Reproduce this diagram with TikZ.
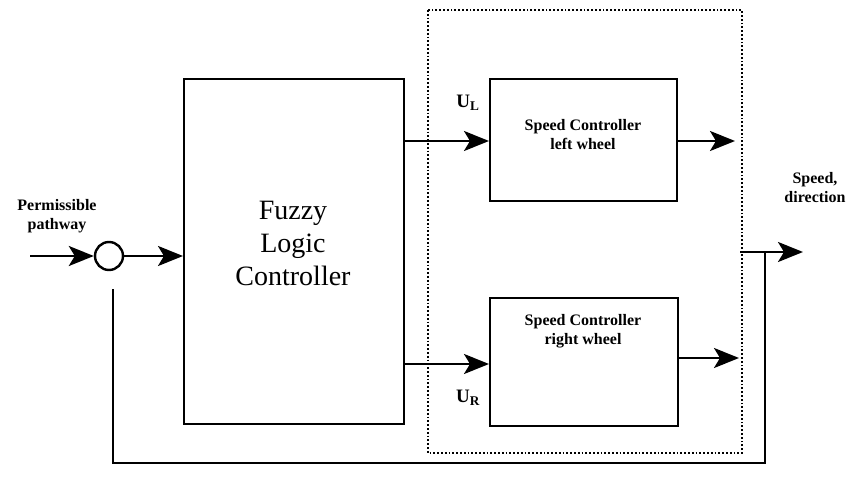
\documentclass[tikz,border=0pt]{standalone}
\usepackage{fontspec}
\setmainfont{Liberation Serif}
\usetikzlibrary{arrows.meta}
\begin{document}
\begin{tikzpicture}[x=1pt,y=-1pt,
  line width=2.6pt,
  arr/.style={-{Stealth[length=25pt,width=20pt,inset=6pt]}},
  blk/.style={draw,line width=2.4pt,inner sep=0pt},
  lbl/.style={font=\bfseries\fontsize{16}{16}\selectfont,align=center,inner sep=0pt},
]
\useasboundingbox (0,0) rectangle (848,494);
% Fuzzy logic controller
\node[blk,minimum width=220pt,minimum height=345pt,anchor=north west] (flc) at (183,78) {};
\node[font=\fontsize{28}{33}\selectfont,align=center] at (293,243) {Fuzzy\\Logic\\Controller};
% speed controllers
\node[blk,minimum width=187pt,minimum height=122pt,anchor=north west] (scl) at (489,78) {};
\node[lbl] at (583,135) {Speed Controller\\[3pt]left wheel};
\node[blk,minimum width=188pt,minimum height=128pt,anchor=north west] (scr) at (489,297) {};
\node[lbl] at (583,331) {Speed Controller\\[3pt]right wheel};
% dotted box
\draw[line width=1.8pt,dotted] (428,10) rectangle (742,453);
% summing circle
\node[draw,circle,minimum size=28pt,inner sep=0pt,line width=2.4pt] (sum) at (109,256) {};
\coordinate (in) at (30,256);
\draw[arr] (in) -- (sum.west);
\draw[arr] (sum.east) -- (flc.west |- sum);
\node[lbl] at (57,216) {Permissible\\[3pt]pathway};
% controller outputs
\coordinate (ul) at (403,141);
\coordinate (ur) at (403,364);
\draw[arr] (ul) -- (scl.west |- ul);
\draw[arr] (ur) -- (scr.west |- ur);
\node[font=\bfseries\fontsize{19}{19}\selectfont] at (468,103) {U\textsubscript{L}};
\node[font=\bfseries\fontsize{19}{19}\selectfont] at (468,398) {U\textsubscript{R}};
% outputs of speed controllers
\coordinate (ol) at (735,141);
\coordinate (or) at (739,358);
\draw[arr] (scl.east |- ol) -- (ol);
\draw[arr] (scr.east |- or) -- (or);
% system output
\coordinate (so) at (740,252);
\coordinate (st) at (803,252);
\draw[arr] (so) -- (st);
\node[lbl] at (815,188) {Speed,\\[3pt]direction};
% feedback
\coordinate (fb1) at (765,252);
\coordinate (fb2) at (765,463);
\coordinate (fb3) at (113,463);
\coordinate (fb4) at (113,289);
\draw (fb1) -- (fb2) -- (fb3) -- (fb4);
\end{tikzpicture}
\end{document}
